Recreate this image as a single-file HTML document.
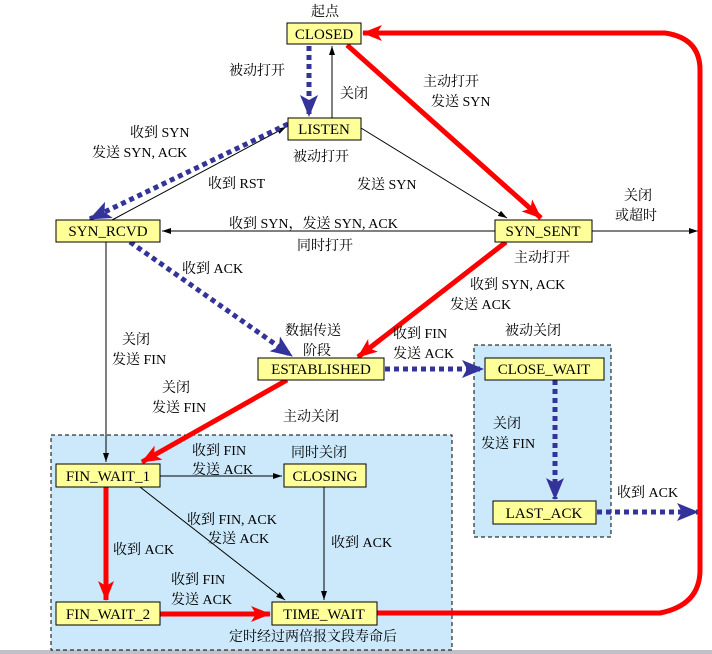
<!DOCTYPE html>
<html><head><meta charset="utf-8"><style>
html,body{margin:0;padding:0;background:#fff;}
svg{display:block;}
text{font-family:"Liberation Serif","Noto Serif CJK SC","Noto Sans CJK SC",serif;font-size:14px;fill:#000;}
text.s{font-size:15px;}
.b{fill:#ffff99;stroke:#000;stroke-width:1;}
</style></head><body>
<svg width="712" height="654" viewBox="0 0 712 654" xmlns="http://www.w3.org/2000/svg">
<defs>
<marker id="ab" markerWidth="10" markerHeight="8" refX="9" refY="4" orient="auto" markerUnits="userSpaceOnUse"><path d="M0,1 L9,4 L0,7 z" fill="#000"/></marker>
<marker id="ar" markerWidth="20" markerHeight="16" refX="19" refY="8" orient="auto" markerUnits="userSpaceOnUse"><path d="M0,0 L20,8 L0,16 L5,8 z" fill="#f00"/></marker>
<marker id="au" markerWidth="22" markerHeight="18" refX="21" refY="9" orient="auto" markerUnits="userSpaceOnUse"><path d="M0,0 L22,9 L0,18 L5,9 z" fill="#333399"/></marker>
</defs>
<rect x="0" y="650" width="712" height="4" fill="#c0c0c8"/>
<rect x="51" y="435" width="401" height="215" fill="#cce9fb" stroke="#000" stroke-dasharray="4,3"/>
<rect x="474" y="345" width="137" height="192" fill="#cce9fb" stroke="#000" stroke-dasharray="4,3"/>

<line x1="332" y1="118" x2="332" y2="46" stroke="#000" marker-end="url(#ab)"/>
<line x1="361" y1="128" x2="507" y2="218" stroke="#000" marker-end="url(#ab)"/>
<line x1="112" y1="220" x2="286" y2="127" stroke="#000" marker-end="url(#ab)"/>
<line x1="495" y1="231" x2="162" y2="231" stroke="#000" marker-end="url(#ab)"/>
<line x1="592" y1="231" x2="698" y2="231" stroke="#000" marker-end="url(#ab)"/>
<line x1="106" y1="242" x2="106" y2="462" stroke="#000" marker-end="url(#ab)"/>
<line x1="160" y1="476" x2="282" y2="476" stroke="#000" marker-end="url(#ab)"/>
<line x1="140" y1="487" x2="285" y2="600" stroke="#000" marker-end="url(#ab)"/>
<line x1="324" y1="487" x2="324" y2="600" stroke="#000" marker-end="url(#ab)"/>

<line x1="309" y1="46" x2="309" y2="116" stroke="#333399" stroke-width="5" stroke-dasharray="5,4" marker-end="url(#au)"/>
<line x1="288" y1="124" x2="90" y2="219" stroke="#333399" stroke-width="5" stroke-dasharray="5,4" marker-end="url(#au)"/>
<line x1="130" y1="242" x2="292" y2="356" stroke="#333399" stroke-width="5" stroke-dasharray="5,4" marker-end="url(#au)"/>
<line x1="385" y1="369" x2="483" y2="369" stroke="#333399" stroke-width="5" stroke-dasharray="5,4" marker-end="url(#au)"/>
<line x1="555" y1="380" x2="555" y2="499" stroke="#333399" stroke-width="5" stroke-dasharray="5,4" marker-end="url(#au)"/>
<line x1="597" y1="512" x2="698" y2="512" stroke="#333399" stroke-width="5" stroke-dasharray="5,4" marker-end="url(#au)"/>

<line x1="347" y1="45" x2="541" y2="218" stroke="#f00" stroke-width="5" marker-end="url(#ar)"/>
<line x1="506" y1="242" x2="358" y2="357" stroke="#f00" stroke-width="5" marker-end="url(#ar)"/>
<line x1="287" y1="380" x2="142" y2="462" stroke="#f00" stroke-width="5" marker-end="url(#ar)"/>
<line x1="106" y1="487" x2="106" y2="600" stroke="#f00" stroke-width="5" marker-end="url(#ar)"/>
<line x1="160" y1="614" x2="270" y2="614" stroke="#f00" stroke-width="5" marker-end="url(#ar)"/>
<path d="M377,613 L660,613 Q700,605 700,570 L700,70 Q700,38 665,33 L363,33" fill="none" stroke="#f00" stroke-width="5" marker-end="url(#ar)"/>

<rect class="b" x="287" y="23" width="74" height="21"/><text class="s" x="324" y="39" text-anchor="middle">CLOSED</text>
<rect class="b" x="288" y="118" width="73" height="22"/><text class="s" x="324" y="134" text-anchor="middle">LISTEN</text>
<rect class="b" x="56" y="220" width="104" height="22"/><text class="s" x="108" y="236" text-anchor="middle">SYN_RCVD</text>
<rect class="b" x="495" y="220" width="97" height="22"/><text class="s" x="543" y="236" text-anchor="middle">SYN_SENT</text>
<rect class="b" x="258" y="358" width="126" height="22"/><text class="s" x="321" y="374" text-anchor="middle">ESTABLISHED</text>
<rect class="b" x="485" y="358" width="119" height="22"/><text class="s" x="544" y="374" text-anchor="middle">CLOSE_WAIT</text>
<rect class="b" x="56" y="464" width="104" height="23"/><text class="s" x="108" y="481" text-anchor="middle">FIN_WAIT_1</text>
<rect class="b" x="284" y="464" width="82" height="23"/><text class="s" x="325" y="481" text-anchor="middle">CLOSING</text>
<rect class="b" x="493" y="501" width="103" height="23"/><text class="s" x="544" y="518" text-anchor="middle">LAST_ACK</text>
<rect class="b" x="56" y="602" width="104" height="23"/><text class="s" x="108" y="619" text-anchor="middle">FIN_WAIT_2</text>
<rect class="b" x="272" y="602" width="105" height="23"/><text class="s" x="324" y="619" text-anchor="middle">TIME_WAIT</text>

<text x="325" y="16" text-anchor="middle">起点</text>
<text x="229" y="75">被动打开</text>
<text x="340" y="98">关闭</text>
<text x="423" y="86">主动打开</text>
<text x="431" y="106">发送 SYN</text>
<text x="130" y="137">收到 SYN</text>
<text x="92" y="157">发送 SYN, ACK</text>
<text x="293" y="161">被动打开</text>
<text x="208" y="188">收到 RST</text>
<text x="357" y="189">发送 SYN</text>
<text x="624" y="200">关闭</text>
<text x="615" y="220">或超时</text>
<text x="229" y="228">收到 SYN，发送 SYN, ACK</text>
<text x="297" y="250">同时打开</text>
<text x="514" y="262">主动打开</text>
<text x="182" y="273">收到 ACK</text>
<text x="470" y="289">收到 SYN, ACK</text>
<text x="450" y="309">发送 ACK</text>
<text x="122" y="344">关闭</text>
<text x="112" y="364">发送 FIN</text>
<text x="285" y="335">数据传送</text>
<text x="303" y="355">阶段</text>
<text x="393" y="338">收到 FIN</text>
<text x="393" y="358">发送 ACK</text>
<text x="505" y="335">被动关闭</text>
<text x="162" y="392">关闭</text>
<text x="152" y="412">发送 FIN</text>
<text x="283" y="421">主动关闭</text>
<text x="493" y="428">关闭</text>
<text x="481" y="448">发送 FIN</text>
<text x="192" y="455">收到 FIN</text>
<text x="192" y="474">发送 ACK</text>
<text x="291" y="457">同时关闭</text>
<text x="617" y="497">收到 ACK</text>
<text x="187" y="524">收到 FIN, ACK</text>
<text x="208" y="543">发送 ACK</text>
<text x="331" y="547">收到 ACK</text>
<text x="113" y="554">收到 ACK</text>
<text x="171" y="584">收到 FIN</text>
<text x="171" y="604">发送 ACK</text>
<text x="229" y="641">定时经过两倍报文段寿命后</text>
</svg>
</body></html>
